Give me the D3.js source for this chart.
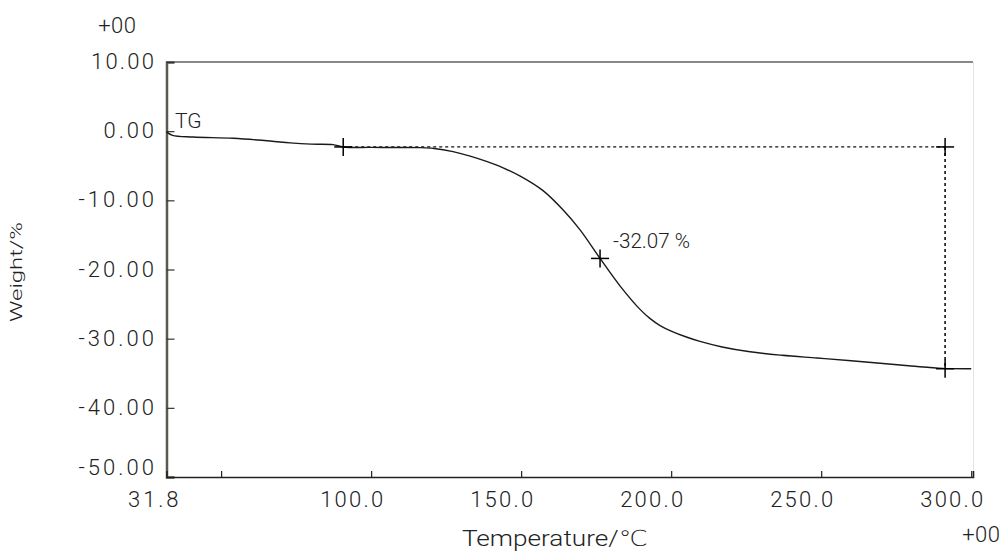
<!DOCTYPE html>
<html><head><meta charset="utf-8">
<script src="https://cdn.jsdelivr.net/npm/d3@7"></script>
<style>
html,body{margin:0;padding:0;background:#fff;}
svg{display:block;}
text{font-family:Roboto,"DejaVu Sans",sans-serif;font-weight:300;fill:#222;}
</style></head>
<body>
<script>
// ---- data ----
const temps   = [31.8, 33.8, 40.7, 54, 66.3, 73, 80, 87.3, 90.7, 100, 110, 116.3, 121, 127.3, 133, 138.7, 144, 149.7, 157.3, 164, 169.7, 176.3, 183, 189.7, 193, 196.3, 200, 205.3, 209.6, 217, 226.3, 237, 248.6, 260, 270.6, 280, 290.5, 300];
const weights = [-0.1, -0.6, -0.84, -1.03, -1.42, -1.7, -1.88, -1.95, -2.28, -2.35, -2.36, -2.38, -2.5, -2.96, -3.6, -4.41, -5.3, -6.5, -8.6, -11.4, -14.3, -18.4, -22.4, -25.8, -27.1, -28.1, -28.9, -29.8, -30.4, -31.2, -31.9, -32.4, -32.8, -33.2, -33.6, -33.95, -34.3, -34.35];
const xTicks = [50, 100, 150, 200, 250, 300];
const xTickLabelValues = [31.8, 100, 150, 200, 250, 300];
const xTickLabels = ["31.8", "100.0", "150.0", "200.0", "250.0", "300.0"];
const yTicks = [10, 0, -10, -20, -30, -40, -50];
const yTickLabels = ["10.00", "0.00", "-10.00", "-20.00", "-30.00", "-40.00", "-50.00"];
const onsetT = 90.7, onsetW = -2.28;
const midT = 176.3, midW = -18.4;
const endT = 291.3, endW = -34.35;
const stepLabel = "-32.07 %";
const seriesName = "TG";
const xTitle = "Temperature/℃";
const yTitle = "Weight/%";
const expLabel = "+00";

// ---- layout ----
const W = 1001, H = 554;
const L = 166.5, R = 973, T = 62, B = 477;
const CH = 12.6; // monospace cell width of the original font
const svg = d3.select("body").append("svg").attr("width", W).attr("height", H);
const x = d3.scaleLinear().domain([31.8, 300.6]).range([L, R]);
const y = d3.scaleLinear().domain([-50, 10]).range([B, T]);

function mono(sel, s, w) {
  sel.attr("textLength", s.length * w).attr("lengthAdjust", "spacing").text(s);
}

// frame: top grey, right light
svg.append("line").attr("x1", L).attr("x2", R).attr("y1", T).attr("y2", T)
  .attr("stroke", "#8a8a85").attr("stroke-width", 2);
svg.append("line").attr("x1", R + 0.5).attr("x2", R + 0.5).attr("y1", T).attr("y2", B)
  .attr("stroke", "#e4e4e0").attr("stroke-width", 1);

// y axis
const yAxis = d3.axisRight(y).tickValues(yTicks).tickSize(8).tickFormat("");
const gy = svg.append("g").attr("transform", `translate(${L},0)`).call(yAxis);
gy.select(".domain").attr("stroke", "#5a5a55").attr("stroke-width", 2.5);
gy.selectAll(".tick line").attr("stroke", "#333").attr("stroke-width", 1.2);

// x axis
const xAxis = d3.axisTop(x).tickValues(xTicks).tickSize(6).tickFormat("");
const gx = svg.append("g").attr("transform", `translate(0,${B})`).call(xAxis);
gx.select(".domain").attr("stroke", "#222").attr("stroke-width", 1.6);
gx.selectAll(".tick line").attr("stroke", "#222").attr("stroke-width", 1.2);

// y tick labels
svg.selectAll(".ylab").data(yTicks).enter().append("text")
  .attr("x", 154).attr("y", (d) => Math.min(y(d) + 7, B - 2))
  .attr("text-anchor", "end").attr("font-size", 22)
  .each(function (d, i) { mono(d3.select(this), yTickLabels[i], CH); });

// x tick labels
svg.selectAll(".xlab").data(xTickLabelValues).enter().append("text")
  .attr("x", (d) => x(d) + 12).attr("y", 507)
  .attr("text-anchor", "end").attr("font-size", 22)
  .each(function (d, i) { mono(d3.select(this), xTickLabels[i], CH); });

// exponent labels
mono(svg.append("text").attr("x", 136).attr("y", 33).attr("text-anchor", "end").attr("font-size", 22), expLabel, CH);
mono(svg.append("text").attr("x", 1000).attr("y", 542).attr("text-anchor", "end").attr("font-size", 22), expLabel, CH);

// axis titles
svg.append("text").attr("x", 555).attr("y", 546).attr("text-anchor", "middle").attr("font-size", 22)
  .attr("textLength", 186).attr("lengthAdjust", "spacingAndGlyphs").text(xTitle);
svg.append("text").attr("transform", "translate(22,272) rotate(-90)").attr("text-anchor", "middle")
  .attr("font-size", 16).attr("textLength", 100).attr("lengthAdjust", "spacingAndGlyphs").text(yTitle);

// dashed construction lines
const dash = "3,3";
svg.append("line").attr("x1", x(onsetT)).attr("x2", x(endT)).attr("y1", y(onsetW)).attr("y2", y(onsetW))
  .attr("stroke", "#111").attr("stroke-width", 1.3).attr("stroke-dasharray", dash);
svg.append("line").attr("x1", x(endT)).attr("x2", x(endT)).attr("y1", y(onsetW)).attr("y2", y(endW))
  .attr("stroke", "#111").attr("stroke-width", 1.6).attr("stroke-dasharray", dash);

// curve
const pts = temps.map((t, i) => [t, weights[i]]);
svg.append("path").datum(pts)
  .attr("d", d3.line().x((d) => x(d[0])).y((d) => y(d[1])).curve(d3.curveCatmullRom.alpha(0.5)))
  .attr("fill", "none").attr("stroke", "#1a1a1a").attr("stroke-width", 1.4);

// crosses
const crosses = [[onsetT, onsetW], [midT, midW], [endT, onsetW], [endT, endW]];
const cg = svg.append("g");
crosses.forEach(([t, w]) => {
  const cx = x(t), cy = y(w);
  cg.append("line").attr("x1", cx - 9).attr("x2", cx + 9).attr("y1", cy).attr("y2", cy).attr("stroke", "#000").attr("stroke-width", 1.5);
  cg.append("line").attr("x1", cx).attr("x2", cx).attr("y1", cy - 9).attr("y2", cy + 9).attr("stroke", "#000").attr("stroke-width", 1.5);
});

// labels
svg.append("text").attr("x", 613).attr("y", 248).attr("font-size", 21)
  .attr("textLength", 77).attr("lengthAdjust", "spacingAndGlyphs").text(stepLabel);
svg.append("text").attr("x", 175).attr("y", 128).attr("font-size", 21).text(seriesName);
</script>
</body></html>
